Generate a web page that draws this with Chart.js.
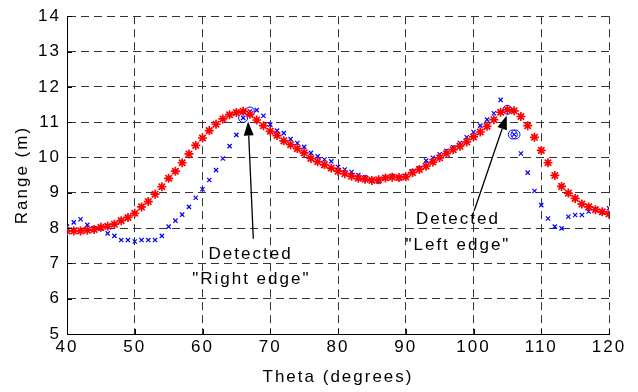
<!DOCTYPE html>
<html>
<head>
<meta charset="utf-8">
<script src="https://cdn.jsdelivr.net/npm/chart.js@4"></script>
<style>
  body { margin: 0; background: #fff; }
  #wrap { width: 638px; height: 392px; }
</style>
</head>
<body>
<div id="wrap"><canvas id="chartRange"></canvas></div>
<script>
// theta in degrees, one sample per degree
const theta = [40, 41, 42, 43, 44, 45, 46, 47, 48, 49, 50, 51, 52, 53, 54, 55, 56, 57, 58, 59,
  60, 61, 62, 63, 64, 65, 66, 67, 68, 69, 70, 71, 72, 73, 74, 75, 76, 77, 78, 79,
  80, 81, 82, 83, 84, 85, 86, 87, 88, 89, 90, 91, 92, 93, 94, 95, 96, 97, 98, 99,
  100, 101, 102, 103, 104, 105, 106, 107, 108, 109, 110, 111, 112, 113, 114, 115, 116, 117, 118, 119, 120];

// red asterisks
const rangeModel = [7.92, 7.92, 7.92, 7.94, 7.96, 8.02, 8.05, 8.11, 8.21, 8.30, 8.42, 8.60, 8.75, 8.96, 9.17, 9.41, 9.61, 9.85, 10.10, 10.34,
  10.55, 10.76, 10.94, 11.09, 11.21, 11.27, 11.31, 11.22, 11.06, 10.90, 10.74, 10.62, 10.47, 10.36, 10.25, 10.13, 9.97, 9.88, 9.79, 9.70,
  9.61, 9.54, 9.47, 9.41, 9.38, 9.35, 9.37, 9.42, 9.44, 9.43, 9.45, 9.57, 9.66, 9.75, 9.87, 9.99, 10.11, 10.22, 10.32, 10.44,
  10.58, 10.72, 10.88, 11.07, 11.28, 11.35, 11.32, 11.16, 10.90, 10.57, 10.20, 9.85, 9.49, 9.18, 8.99, 8.84, 8.68, 8.60, 8.52, 8.46, 8.40];

// blue crosses
const rangeMeasured = [8.04, 8.16, 8.25, 8.09, 7.99, 7.99, 7.85, 7.78, 7.66, 7.66, 7.62, 7.66, 7.66, 7.66, 7.78, 8.04, 8.21, 8.38, 8.60, 8.86,
  9.10, 9.36, 9.64, 9.97, 10.32, 10.64, 11.12, 11.30, 11.34, 11.18, 10.93, 10.76, 10.69, 10.52, 10.41, 10.30, 10.13, 10.03, 9.94, 9.89,
  9.73, 9.66, 9.59, 9.50, 9.44, 9.35, 9.31, 9.44, 9.47, 9.41, 9.47, 9.61, 9.69, 9.91, 9.99, 10.09, 10.19, 10.29, 10.41, 10.57,
  10.72, 10.90, 11.07, 11.25, 11.63, 11.35, 10.65, 10.11, 9.57, 9.05, 8.65, 8.27, 8.04, 7.99, 8.32, 8.37, 8.37, 8.47, 8.54, 8.44, 8.56];

// detected edge points (circled)
const edgeTheta = [66, 67, 105, 105.8, 106.2];
const edgeRange = [11.12, 11.30, 11.35, 10.65, 10.65];

// annotations: text and arrows in data coordinates
const labels = [
  { text: 'Detected', x: 67.1, y: 7.25 },
  { text: '"Right edge"', x: 67.2, y: 6.55 },
  { text: 'Detected', x: 97.7, y: 8.26 },
  { text: '"Left edge"', x: 97.7, y: 7.5 }
];
const arrows = [
  { x1: 67.5, y1: 7.70, x2: 66.73, y2: 11.02 },
  { x1: 100.1, y1: 8.49, x2: 104.9, y2: 11.19 }
];

function toPoints(xs, ys) {
  return xs.map((x, i) => ({ x: x, y: ys[i] }));
}

const FONT = 'Liberation Sans, Arial, sans-serif';

const spacingPlugin = {
  id: 'spacing',
  beforeDraw(chart) {
    chart.ctx.letterSpacing = '2px';
  }
};

// inward tick marks, arrows and text labels
const notesPlugin = {
  id: 'notes',
  afterDatasetsDraw(chart) {
    const ctx = chart.ctx;
    const xs = chart.scales.x, ys = chart.scales.y;
    const area = chart.chartArea;
    ctx.save();
    ctx.strokeStyle = '#000';
    ctx.lineWidth = 1;
    ctx.beginPath();
    xs.ticks.forEach(t => {
      const px = Math.round(xs.getPixelForValue(t.value)) + 0.5;
      ctx.moveTo(px, area.bottom);
      ctx.lineTo(px, area.bottom - 5);
    });
    ys.ticks.forEach(t => {
      const py = Math.round(ys.getPixelForValue(t.value)) + 0.5;
      ctx.moveTo(area.left, py);
      ctx.lineTo(area.left + 5, py);
    });
    ctx.stroke();

    arrows.forEach(a => {
      const x1 = xs.getPixelForValue(a.x1), y1 = ys.getPixelForValue(a.y1);
      const x2 = xs.getPixelForValue(a.x2), y2 = ys.getPixelForValue(a.y2);
      const ang = Math.atan2(y2 - y1, x2 - x1);
      const len = 14, half = 5;
      const bx = x2 - len * Math.cos(ang), by = y2 - len * Math.sin(ang);
      ctx.beginPath();
      ctx.moveTo(x1, y1);
      ctx.lineTo(bx, by);
      ctx.lineWidth = 1.3;
      ctx.stroke();
      ctx.beginPath();
      ctx.moveTo(x2, y2);
      ctx.lineTo(bx + half * Math.sin(ang), by - half * Math.cos(ang));
      ctx.lineTo(bx - half * Math.sin(ang), by + half * Math.cos(ang));
      ctx.closePath();
      ctx.fillStyle = '#000';
      ctx.fill();
    });

    ctx.font = '17px ' + FONT;
    ctx.fillStyle = '#000';
    ctx.textAlign = 'center';
    ctx.textBaseline = 'middle';
    labels.forEach(l => {
      ctx.fillText(l.text, xs.getPixelForValue(l.x), ys.getPixelForValue(l.y));
    });
    ctx.restore();
  }
};

Chart.defaults.font.family = FONT;
Chart.defaults.font.size = 17;
Chart.defaults.color = '#000';

new Chart(document.getElementById('chartRange'), {
  type: 'scatter',
  data: {
    datasets: [
      {
        label: 'model',
        data: toPoints(theta, rangeModel),
        pointStyle: 'star',
        pointRadius: 4.5,
        borderWidth: 1.7,
        borderColor: '#ff0000',
        backgroundColor: '#ff0000'
      },
      {
        label: 'measured',
        data: toPoints(theta, rangeMeasured),
        pointStyle: 'crossRot',
        pointRadius: 3,
        borderWidth: 1.2,
        borderColor: '#0000ff',
        backgroundColor: '#0000ff'
      },
      {
        label: 'edges',
        data: toPoints(edgeTheta, edgeRange),
        pointStyle: 'circle',
        pointRadius: 4.5,
        borderWidth: 1,
        borderColor: '#0000ff',
        backgroundColor: 'rgba(0,0,0,0)'
      }
    ]
  },
  options: {
    responsive: true,
    maintainAspectRatio: false,
    animation: false,
    layout: { padding: { left: 0, right: 29, top: 14, bottom: 0 } },
    plugins: {
      legend: { display: false },
      tooltip: { enabled: false }
    },
    scales: {
      x: {
        type: 'linear',
        min: 40,
        max: 120,
        afterFit(scale) { scale.height = 58; },
        ticks: { stepSize: 10, padding: 3, maxRotation: 0 },
        grid: { color: '#333', lineWidth: 1, drawTicks: false },
        border: { color: '#000', width: 1, dash: [8, 5] },
        title: { display: true, text: 'Theta (degrees)', padding: { top: 0, bottom: 4 } }
      },
      y: {
        type: 'linear',
        min: 5,
        max: 14,
        afterFit(scale) { scale.width = 67; },
        ticks: { stepSize: 1, padding: 6 },
        grid: { color: '#333', lineWidth: 1, drawTicks: false },
        border: { color: '#000', width: 1, dash: [8, 5] },
        title: { display: true, text: 'Range (m)', padding: { top: 12, bottom: 0 } }
      }
    }
  },
  plugins: [spacingPlugin, notesPlugin]
});
</script>
</body>
</html>
